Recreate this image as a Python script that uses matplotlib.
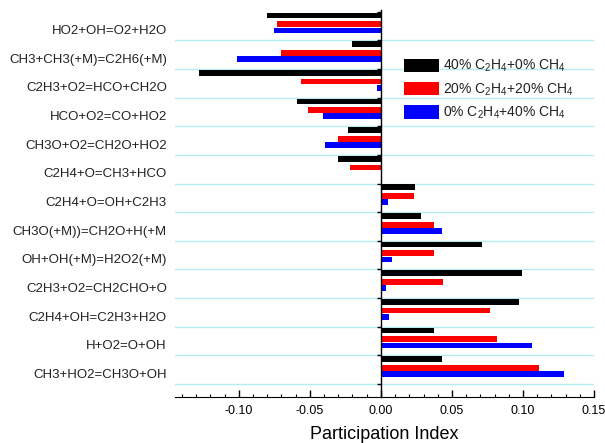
import matplotlib.pyplot as plt
import numpy as np
from matplotlib.ticker import MultipleLocator, FormatStrFormatter

plt.rcParams["font.family"] = ["Liberation Sans", "DejaVu Sans"]
plt.rcParams["mathtext.default"] = "regular"

# reactions, top to bottom
reactions = [
    "HO2+OH=O2+H2O",
    "CH3+CH3(+M)=C2H6(+M)",
    "C2H3+O2=HCO+CH2O",
    "HCO+O2=CO+HO2",
    "CH3O+O2=CH2O+HO2",
    "C2H4+O=CH3+HCO",
    "C2H4+O=OH+C2H3",
    "CH3O(+M))=CH2O+H(+M",
    "OH+OH(+M)=H2O2(+M)",
    "C2H3+O2=CH2CHO+O",
    "C2H4+OH=C2H3+H2O",
    "H+O2=O+OH",
    "CH3+HO2=CH3O+OH",
]

# participation index for each mixture
c2h4_40 = [-0.080, -0.020, -0.128, -0.059, -0.023, -0.030, 0.024,
           0.028, 0.071, 0.099, 0.097, 0.037, 0.043]
mix_20_20 = [-0.073, -0.070, -0.056, -0.051, -0.030, -0.022, 0.023,
             0.037, 0.037, 0.044, 0.077, 0.082, 0.111]
ch4_40 = [-0.075, -0.101, -0.003, -0.041, -0.039, 0.001, 0.005,
          0.043, 0.008, 0.0035, 0.006, 0.106, 0.129]

labels = [r"40% C$_2$H$_4$+0% CH$_4$",
          r"20% C$_2$H$_4$+20% CH$_4$",
          r"0% C$_2$H$_4$+40% CH$_4$"]
colors = ["black", "red", "blue"]

y = np.arange(len(reactions))
offsets = [-0.37, -0.065, 0.15]
h = 0.2

fig = plt.figure(figsize=(6.05, 4.43), dpi=100)
ax = fig.add_axes([0.289, 0.104, 0.693, 0.874])

# light cyan separators between reactions
for yy in y + 0.5:
    ax.axhline(yy, color="#b4ecf4", lw=1.0, zorder=0)

for vals, off, col, lab in zip([c2h4_40, mix_20_20, ch4_40], offsets, colors, labels):
    ax.barh(y + off, vals, height=h, color=col, label=lab, zorder=2)

ax.set_xlim(-0.145, 0.15)
ax.set_ylim(12.95, -0.57)

# vertical axis sits at zero
ax.spines["left"].set_position(("data", 0))
ax.spines["left"].set_linewidth(1.0)
ax.spines["left"].set_zorder(3)
ax.spines["top"].set_visible(False)
ax.spines["right"].set_visible(False)
ax.set_yticks(np.arange(-0.5, 13, 1.0))
ax.set_yticklabels([])
ax.tick_params(axis="y", direction="out", length=3, width=1)

for yy, name in zip(y, reactions):
    ax.text(-0.019, yy + 0.18, name, transform=ax.get_yaxis_transform(),
            ha="right", va="center", fontsize=9.5, color="#222222")

ax.xaxis.set_major_locator(MultipleLocator(0.05))
ax.xaxis.set_minor_locator(MultipleLocator(0.01))
ax.xaxis.set_major_formatter(FormatStrFormatter("%.2f"))
ax.tick_params(axis="x", which="major", direction="in", length=5, width=1,
               labelsize=9, pad=6)
ax.tick_params(axis="x", which="minor", direction="in", length=2.5, width=0.8)
ax.set_xlabel("Participation Index", fontsize=13, labelpad=6)

leg = ax.legend(loc="upper left", bbox_to_anchor=(0.533, 0.89), frameon=False,
                fontsize=10, handlelength=2.5, handleheight=1.1, handletextpad=0.3,
                labelspacing=0.5, borderaxespad=0)
for t in leg.get_texts():
    t.set_color("#222222")

fig.savefig("out.png", dpi=100)
